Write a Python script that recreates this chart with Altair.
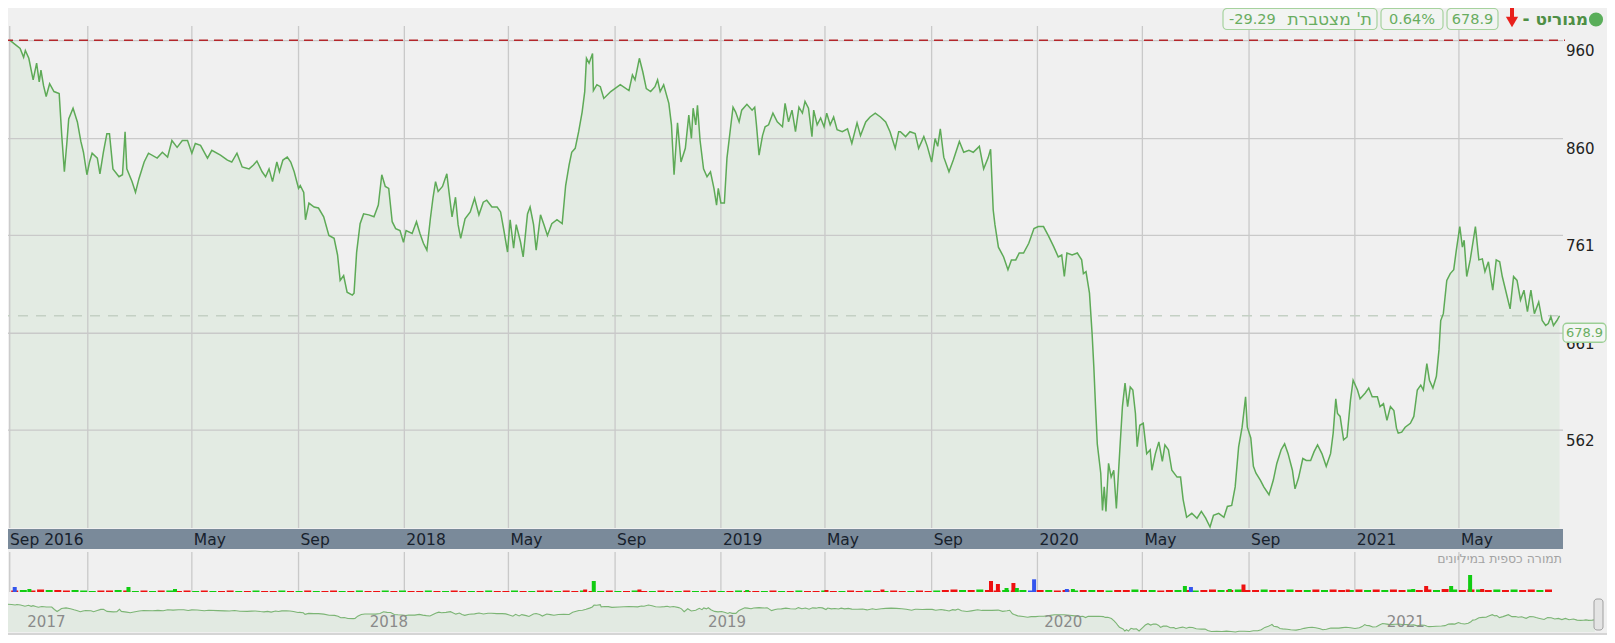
import altair as alt
import pandas as pd

# ---------------- data ----------------
BASE_DATE = "2017-01-01"  # day 0

PRICE_DAY = [-90,-85,-78,-74,-72,-68,-63,-59,-56,-54,-51,-48,-44,-39,-33,-30,-27,-24,-22,-17,
             -12,-8,-5,-1,2,5,11,14,18,22,25,29,36,40,43,45,51,55,59,65,
             70,80,86,92,97,103,109,115,120,124,130,138,143,153,161,166,172,178,186,191,
             195,201,205,209,213,218,221,225,230,234,238,243,
             245,249,251,255,261,266,272,278,284,288,291,295,299,305,307,310,314,318,324,330,
             335,339,343,347,351,355,360,364,367,374,379,383,387,391,395,398,401,404,409,414,
             416,420,424,427,430,435,441,446,451,456,460,466,472,476,480,484,487,491,494,499,
             502,507,510,514,517,522,526,530,535,541,547,551,555,558,562,566,570,573,575,578,
             582,583,587,
             591,595,603,614,624,628,631,636,640,644,649,654,657,660,664,670,673,676,680,684,
             689,693,696,698,701,703,706,710,714,718,722,725,727,730,734,737,741,744,747,751,
             754,760,766,769,771,774,778,781,785,790,795,801,804,808,812,816,820,824,827,831,
             835,837,841,845,849,852,856,860,864,870,876,881,887,891,897,902,908,914,920,925,
             931,935,
             937,943,948,954,958,964,968,973,977,980,983,987,993,998,1005,1010,1016,1021,1028,1033,
             1038,1041,1044,1046,1050,1056,1061,1065,1070,1074,1079,1085,1091,1096,1102,1108,1114,1119,1123,1126,
             1129,1135,1141,1146,1148,1151,1155,1158,1160,1162,1164,1168,1170,1172,1174,1177,1180,1183,1186,1190,
             1193,1196,1199,1202,1205,1208,1210,1213,1217,1221,1225,1227,1231,1235,1239,1242,1246,1250,1256,
             1260,1263,1267,1273,1279,1284,1289,1294,1298,1304,1310,1314,1319,1323,1327,1331,1335,1337,1341,1344,
             1347,1352,1356,1362,1367,1371,1376,1380,1384,1389,1392,1396,1401,1405,1410,1414,1418,1423,1428,1433,
             1436,1439,1441,1444,1448,1452,1456,1459,1464,1467,1473,1477,1481,1487,1490,1494,1498,1502,1506,1509,
             1511,1515,1519,1525,1529,1533,1537,1540,1544,1547,1551,1555,1558,1560,1563,1567,1571,1575,1578,1582,
             1585,1587,1590,1594,1600,1604,1608,1611,1615,1620,1624,1628,1631,1634,1640,1644,1648,1652,1656,1660,
             1664,1668,1673,1677,1681,1684,1687,1690,1694,1697]

PRICE = [960.5,957,952,943,950,942,920,937,918,930,914,903,916,908,906,863,826,857,880,891,
         877,857,846,823,836,845,840,824,846,865,865,829,821,823,867,829,816,805,819,836,
         845,840,846,841,858,851,858,858,845,855,853,840,848,843,838,836,845,831,829,833,
         837,826,821,829,816,836,826,838,841,836,826,809,
         812,805,777,794,790,789,780,761,758,741,715,720,703,700,702,744,773,783,782,780,
         792,823,811,809,775,768,766,754,766,763,775,763,753,746,778,799,816,806,811,824,
         809,780,800,772,758,778,785,799,782,795,797,790,790,785,765,744,777,748,772,754,
         739,783,790,772,746,782,772,761,773,777,773,812,833,846,850,867,887,908,942,937,
         947,909,915,
         913,901,908,915,909,925,920,942,928,911,908,913,920,908,915,896,874,823,876,836,
         850,884,860,891,874,894,858,829,821,826,809,792,809,794,794,840,870,892,887,877,
         889,895,889,892,874,843,863,872,874,886,877,872,896,877,889,867,892,886,898,891,
         862,889,874,881,872,886,874,882,869,867,870,855,876,863,877,882,886,882,877,867,
         850,867,
         867,862,867,865,850,862,852,836,860,852,870,841,826,838,857,846,848,846,852,829,
         840,849,787,772,749,739,726,736,736,743,743,753,768,770,770,760,749,739,741,719,
         743,741,743,736,722,724,702,661,627,586,548,518,480,504,479,528,514,521,482,542,
         586,610,586,606,603,579,545,567,569,538,542,521,538,550,530,547,542,521,514,
         514,491,473,477,472,479,472,463,475,477,473,484,485,504,545,565,596,565,554,525,
         518,511,504,496,511,528,542,548,538,521,502,513,533,531,531,540,547,538,525,538,
         559,594,579,576,552,555,593,613,603,594,600,605,596,596,586,589,572,586,582,564,
         559,560,565,569,576,603,608,603,630,613,605,617,644,674,681,715,722,726,746,770,
         749,756,719,736,770,736,737,724,734,705,736,734,719,708,686,719,715,695,705,683,
         705,681,693,674,669,671,678,669,674,678.9]

Y_TICKS = [562, 661, 761, 860, 960]
LAST_PRICE = 678.9

GRID_DATES = ["2016-10-03", "2017-01-01", "2017-05-01", "2017-09-01", "2018-01-01",
              "2018-05-01", "2018-09-01", "2019-01-01", "2019-05-01", "2019-09-01",
              "2020-01-01", "2020-05-01", "2020-09-01", "2021-01-01", "2021-05-01"]
X_LABEL_DATES = ["2016-10-01", "2017-05-01", "2017-09-01", "2018-01-01", "2018-05-01",
                 "2018-09-01", "2019-01-01", "2019-05-01", "2019-09-01", "2020-01-01",
                 "2020-05-01", "2020-09-01", "2021-01-01", "2021-05-01"]
X_LABELS = ["Sep 2016", "May", "Sep", "2018", "May", "Sep", "2019", "May", "Sep", "2020",
            "May", "Sep", "2021", "May"]

NAV_LABEL_DATES = ["2016-11-23", "2017-12-12", "2018-12-26", "2020-01-07", "2021-01-25"]
NAV_LABELS = ["2017", "2018", "2019", "2020", "2021"]

# turnover (millions) - notable bars
VOL_SPIKE_DAY = [-90, -73, 42, 96, 572, 582, 635, 760, 852, 917, 1043, 1051, 1061, 1069, 1073,
                 1093, 1131, 1138, 1268, 1275, 1320, 1336, 1457, 1533, 1548, 1577, 1599, 1613]
VOL_SPIKE = [5, 3, 5, 3, 2.5, 11, 2.5, 2, 2, 2.5, 11, 8, 4, 9, 4,
             12.7, 3, 3, 6, 5, 3, 7.5, 2.5, 3, 6, 6, 17, 3]
VOL_SPIKE_COLOR = list("bgggrgrgrrrrgrgbbggbgrrgrggr")
# turnover - the low everyday strip, one bar per 10 days from day -90
VOL_BASE = [1.5,2,1.5,2.5,2,2,1.5,2,1.5,1,1.5,1.5,2,1.5,1,1.5,1,1.5,
            1.5,1,1.5,1,1.5,1,1,1.5,1,1,1.5,1,1,1.5,1,1,1.5,1,
            1,1.5,1,1,1.5,1,1,1.5,1,1.5,1,1,1.5,1,1,1.5,1,1,
            1,1.5,1,1,1.5,1,1,1.5,1.5,1,1.5,1,1.5,1,1,1.5,1,1,
            1.5,1,1,1.5,1,1,1.5,1,1,1.5,1,1,1.5,1,1,1,1.5,1,
            1,1.5,1,1,1.5,1,1,1.5,1,1.5,1,1,1.5,1,1,1.5,1,1.5,
            2,2.5,2,2,2.5,2,1.5,2,1.5,2,1.5,2,2,1.5,2,1.5,2,2,
            2,1.5,2,2,2.5,2,2,1.5,2,2,2,1.5,2,2.5,2,2,2.5,2,
            2,2.5,2,2,2.5,2,2,2.5,2,2.5,2,2,2.5,2,2.5,2,2.5,2,
            2.5,2,2.5,2,3,2.5,2,2.5,2.5,2,2.5,2,2.5,2,2.5,2,2.5]
VOL_BASE_COLOR = list("rgrrgrrgggrrgrgrgr" "grrgrgrrgrgrrgrgrg" "rrgrgrrgrgrrgrgrrg"
                      "rgrrgrgrrgrrgrgrgr" "grgrrgrgrrgrgrrgrg" "rgrrgrgrrgrgrrgrrg"
                      "rrgrgrrgrgbrgrrgrg" "rgrrgrgrrgrgrrgrgr" "rgrrgrgrgrrgrgrgrr"
                      "grrgrgrrgrgrgrrgr")

HEADER_NAME = "- מגוריט"
HEADER_PRICE = "678.9"
HEADER_PCT = "0.64%"
HEADER_CUM = "-29.29"
HEADER_CUM_LABEL = "ת' מצטברת"
VOL_TITLE = "תמורה כספית במיליונים"

# ---------------- tables ----------------
base = pd.Timestamp(BASE_DATE)
price = pd.DataFrame({"date": base + pd.to_timedelta(PRICE_DAY, unit="D"), "v": PRICE})
ticks = pd.DataFrame({"t": Y_TICKS})
grid = pd.DataFrame({"date": pd.to_datetime(GRID_DATES)})
xlab = pd.DataFrame({"date": pd.to_datetime(X_LABEL_DATES), "label": X_LABELS})
navlab = pd.DataFrame({"date": pd.to_datetime(NAV_LABEL_DATES), "label": NAV_LABELS})
base_days = list(range(-90, 1700, 10))
vb = list(zip(base_days, VOL_BASE, VOL_BASE_COLOR))
vol_base = pd.DataFrame({"date": base + pd.to_timedelta([a for a, b, c in vb], unit="D"),
                         "v": [b for a, b, c in vb], "c": [c for a, b, c in vb]})
vol_spike = pd.DataFrame({"date": base + pd.to_timedelta(VOL_SPIKE_DAY, unit="D"),
                          "v": VOL_SPIKE, "c": VOL_SPIKE_COLOR})
one = pd.DataFrame({"a": [0]})

# ---------------- scales ----------------
FONT = "DejaVu Sans"
BG = "#f0f0f0"
GREEN = "#5eaa57"
GRID = "#c9c9c9"

XM = alt.Scale(domain=[alt.DateTime(year=2016, month=10, date=1),
                       alt.DateTime(year=2021, month=8, date=29)], range=[0, 1555])
YM = alt.Scale(domain=[462, 975], range=[520, 18])
YV = alt.Scale(domain=[0, 40], range=[584, 544])
XN = alt.Scale(domain=[alt.DateTime(year=2016, month=10, date=2),
                       alt.DateTime(year=2021, month=8, date=24)], range=[-8, 1586])
YN = alt.Scale(domain=[463, 960], range=[624, 596])
VCOL = alt.Scale(domain=["r", "g", "b"], range=["#ee1111", "#11cc11", "#3355ee"])

xm = alt.X("date:T", scale=XM, axis=None)
xn = alt.X("date:T", scale=XN, axis=None)

layers = []

# main area + grid
layers.append(alt.Chart(price).mark_area(color="#e3ebe3").encode(
    x=xm, y=alt.Y("v:Q", scale=YM, axis=None), y2=alt.Y2Datum(462)))
layers.append(alt.Chart(ticks).mark_rule(color=GRID, strokeWidth=1.3).encode(
    y=alt.Y("t:Q", scale=YM, axis=None), x=alt.value(-8), x2=alt.value(1555)))
layers.append(alt.Chart(grid).mark_rule(color=GRID, strokeWidth=1.3).encode(
    x=xm, y=alt.YDatum(975, scale=YM, axis=None), y2=alt.Y2Datum(462)))
layers.append(alt.Chart(one).mark_rule(color="#c4d0c4", strokeWidth=1.3, strokeDash=[10, 8]).encode(
    y=alt.YDatum(LAST_PRICE, scale=YM, axis=None), x=alt.value(-8), x2=alt.value(1555)))
layers.append(alt.Chart(price).mark_line(color=GREEN, strokeWidth=1.5).encode(
    x=xm, y=alt.Y("v:Q", scale=YM, axis=None)))
layers.append(alt.Chart(price).mark_rule(color="#b3262a", strokeWidth=1.6, strokeDash=[9, 6]).encode(
    y=alt.Y("max(v):Q", scale=YM, axis=None), x=alt.value(-4), x2=alt.value(1557)))
layers.append(alt.Chart(ticks).mark_text(align="left", baseline="middle", dy=10.5, font=FONT,
                                         fontSize=15, color="#222222").encode(
    y=alt.Y("t:Q", scale=YM, axis=None), x=alt.value(1558), text="t:Q"))

# last price tag
layers.append(alt.Chart(one).mark_rect(height=19, yOffset=17, cornerRadius=4, fill="#f3f6f3",
                                       stroke="#9ccf95", strokeWidth=1.3).encode(
    y=alt.YDatum(LAST_PRICE, scale=YM, axis=None), x=alt.value(1555), x2=alt.value(1598)))
layers.append(alt.Chart(one).mark_text(align="center", baseline="middle", dy=17, font=FONT,
                                       fontSize=13, color="#6aae62").encode(
    y=alt.YDatum(LAST_PRICE, scale=YM, axis=None), x=alt.value(1576.5), text=alt.value(HEADER_PRICE)))

# date band
layers.append(alt.Chart(one).mark_rect(color="#7a8a9a").encode(
    x=alt.value(-8), x2=alt.value(1555), y=alt.value(521), y2=alt.value(541)))
layers.append(alt.Chart(xlab).mark_text(align="left", baseline="middle", dx=2, font=FONT,
                                        fontSize=15.5, color="#17212c").encode(
    x=xm, y=alt.value(531.5), text="label:N"))

# turnover panel
layers.append(alt.Chart(grid).mark_rule(color=GRID, strokeWidth=1.3).encode(
    x=xm, y=alt.YDatum(40, scale=YV, axis=None), y2=alt.Y2Datum(0)))
layers.append(alt.Chart(one).mark_text(align="right", baseline="middle", font=FONT, fontSize=12.5,
                                       color="#a3a3a3").encode(
    x=alt.value(1554), y=alt.value(551), text=alt.value(VOL_TITLE)))
layers.append(alt.Chart(vol_base).mark_bar(width=7).encode(
    x=xm, y=alt.Y("v:Q", scale=YV, axis=None), color=alt.Color("c:N", scale=VCOL, legend=None)))
layers.append(alt.Chart(vol_spike).mark_bar(width=4).encode(
    x=xm, y=alt.Y("v:Q", scale=YV, axis=None), color=alt.Color("c:N", scale=VCOL, legend=None)))

# navigator
layers.append(alt.Chart(price).mark_area(color="#e2eae2").encode(
    x=xn, y=alt.Y("v:Q", scale=YN, axis=None), y2=alt.Y2Datum(463)))
layers.append(alt.Chart(price).mark_line(color="#7cb575", strokeWidth=1.1).encode(
    x=xn, y=alt.Y("v:Q", scale=YN, axis=None)))
layers.append(alt.Chart(navlab).mark_text(align="center", baseline="middle", font=FONT,
                                          fontSize=15, color="#8a8a8a").encode(
    x=xn, y=alt.value(614), text="label:N"))
layers.append(alt.Chart(one).mark_rect(color="#d5d5d5").encode(
    x=alt.value(-8), x2=alt.value(1600), y=alt.value(625), y2=alt.value(636)))
layers.append(alt.Chart(one).mark_rect(color="#3d8fd6").encode(
    x=alt.value(760), x2=alt.value(770), y=alt.value(629), y2=alt.value(636)))
layers.append(alt.Chart(one).mark_rect(fill="#e4e4e4", stroke="#a0a0a0", strokeWidth=1,
                                       cornerRadius=3).encode(
    x=alt.value(1586), x2=alt.value(1595), y=alt.value(591), y2=alt.value(622)))

# header
def box(x1, x2):
    return alt.Chart(one).mark_rect(fill="#f2f4f2", stroke="#a6d29e", strokeWidth=1.2,
                                    cornerRadius=4).encode(
        x=alt.value(x1), x2=alt.value(x2), y=alt.value(0.5), y2=alt.value(21.5))

def htext(x, s, align="center", bold=False, color="#69ad61", size=14.5):
    return alt.Chart(one).mark_text(align=align, baseline="middle", font=FONT, fontSize=size,
                                    fontWeight="bold" if bold else "normal", color=color).encode(
        x=alt.value(x), y=alt.value(11.5), text=alt.value(s))

layers += [box(1215, 1369), box(1373, 1435), box(1439, 1490)]
layers.append(htext(1221, HEADER_CUM, align="left"))
layers.append(htext(1364, HEADER_CUM_LABEL, align="right", size=17))
layers.append(htext(1404, HEADER_PCT))
layers.append(htext(1464.5, HEADER_PRICE))
layers.append(alt.Chart(one).mark_rule(color="#e8201c", strokeWidth=4).encode(
    x=alt.value(1504), y=alt.value(0), y2=alt.value(11)))
layers.append(alt.Chart(one).mark_point(shape="triangle-down", filled=True, size=150, opacity=1,
                                        color="#e8201c").encode(
    x=alt.value(1504), y=alt.value(14)))
layers.append(htext(1580, HEADER_NAME, align="right", bold=True, color="#4f8f45", size=17))
layers.append(alt.Chart(one).mark_circle(size=200, opacity=1, color="#5aae5a").encode(
    x=alt.value(1588), y=alt.value(11.5)))

chart = alt.layer(*layers).resolve_scale(
    x="independent", y="independent", color="independent"
).properties(
    width=1599, height=627, background=BG, padding=0,
    autosize=alt.AutoSizeParams(type="none")
).configure_view(stroke=None)

chart.save("out.html", embed_options={"renderer": "svg", "actions": False})
